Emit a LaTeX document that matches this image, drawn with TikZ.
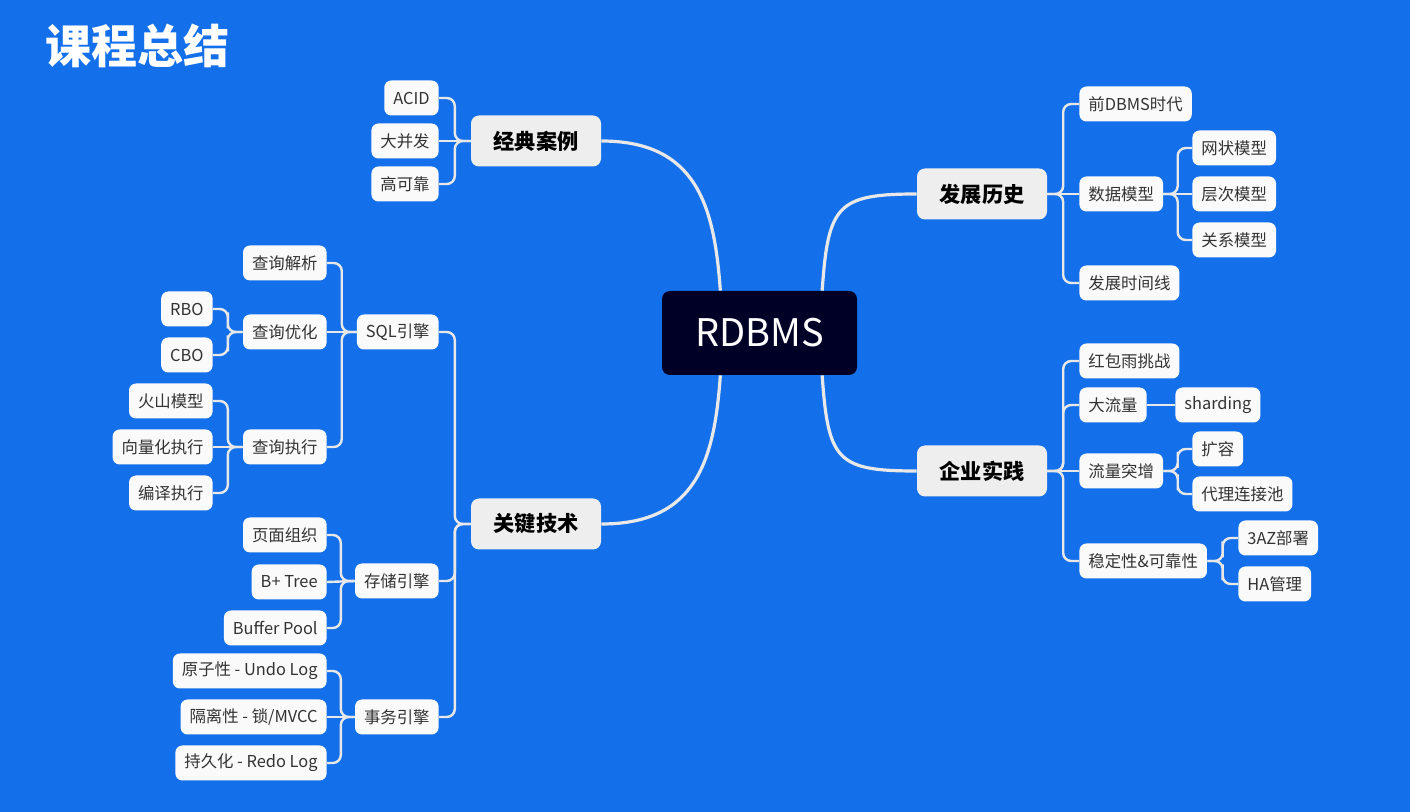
\documentclass[tikz,border=0pt]{standalone}
\usepackage{fontspec}
\setmainfont{Noto Sans CJK SC}
\usetikzlibrary{calc}
\definecolor{bgblue}{HTML}{1470EA}
\definecolor{rootnavy}{HTML}{000026}
\definecolor{branchgrey}{HTML}{EEEEEE}
\definecolor{leafwhite}{HTML}{FAFAFA}
\definecolor{linegrey}{HTML}{E8E8E8}
\definecolor{inktext}{HTML}{333333}
\tikzset{
  root/.style={fill=rootnavy, text=white, rounded corners=4pt, minimum width=97.5pt,
    minimum height=42pt, font=\fontsize{19}{22}\selectfont},
  branch/.style={fill=branchgrey, text=black, rounded corners=4pt, minimum width=65pt,
    minimum height=25.5pt, font=\bfseries\fontsize{10.6}{12}\selectfont},
  leaf/.style={fill=leafwhite, text=inktext, rounded corners=3.5pt, minimum height=17.5pt,
    inner xsep=4.5pt, inner ysep=0pt, font=\fontsize{8.2}{10}\selectfont},
  link/.style={draw=linegrey, line width=1.2pt, rounded corners=4pt},
  trunk/.style={draw=linegrey, line width=1.6pt},
}
\begin{document}
\begin{tikzpicture}[x=0.5pt,y=-0.5pt]
\useasboundingbox (0,0) rectangle (1410,812);
\fill[bgblue] (0,0) rectangle (1410,812);
\node[anchor=west, text=white, font=\bfseries\fontsize{23}{26}\selectfont, inner sep=0pt] (title) at (45,46) {课程总结};

% centre and main branches
\node[root] (rdbms) at (759.5,333) {RDBMS};
\node[branch] (jd) at (536,141) {经典案例};
\node[branch] (gj) at (536,524) {关键技术};
\node[branch] (fz) at (982,194) {发展历史};
\node[branch] (qy) at (982,471) {企业实践};

% left side
\node[leaf, anchor=east] (acid) at (439,98) {ACID};
\node[leaf, anchor=east] (dbf) at (439,141) {大并发};
\node[leaf, anchor=east] (gkk) at (439,184) {高可靠};
\node[leaf, anchor=east] (sql) at (439,332) {SQL引擎};
\node[leaf, anchor=east] (ccyq) at (439,581) {存储引擎};
\node[leaf, anchor=east] (swyq) at (439,717) {事务引擎};
\node[leaf, anchor=east] (cxjx) at (327,263) {查询解析};
\node[leaf, anchor=east] (cxyh) at (327,332) {查询优化};
\node[leaf, anchor=east] (cxzx) at (327,447) {查询执行};
\node[leaf, anchor=east] (rbo) at (213,309) {RBO};
\node[leaf, anchor=east] (cbo) at (213,355) {CBO};
\node[leaf, anchor=east] (hsmx) at (213,401) {火山模型};
\node[leaf, anchor=east] (xlh) at (213,447) {向量化执行};
\node[leaf, anchor=east] (byzx) at (213,493) {编译执行};
\node[leaf, anchor=east] (ymzz) at (327,535) {页面组织};
\node[leaf, anchor=east] (btree) at (327,582) {B+ Tree};
\node[leaf, anchor=east] (bpool) at (327,628) {Buffer Pool};
\node[leaf, anchor=east] (yzx) at (327,671) {原子性 - Undo Log};
\node[leaf, anchor=east] (glx) at (327,717) {隔离性 - 锁/MVCC};
\node[leaf, anchor=east] (cjh) at (327,763) {持久化 - Redo Log};

% right side
\node[leaf, anchor=west] (qdbms) at (1079,104) {前DBMS时代};
\node[leaf, anchor=west] (sjmx) at (1079,194) {数据模型};
\node[leaf, anchor=west] (sjx) at (1079,283) {发展时间线};
\node[leaf, anchor=west] (wzmx) at (1192,148) {网状模型};
\node[leaf, anchor=west] (ccmx) at (1192,194) {层次模型};
\node[leaf, anchor=west] (gxmx) at (1192,240) {关系模型};
\node[leaf, anchor=west] (hby) at (1079,361) {红包雨挑战};
\node[leaf, anchor=west] (dll) at (1079,405) {大流量};
\node[leaf, anchor=west] (shard) at (1175,405) {sharding};
\node[leaf, anchor=west] (lltz) at (1079,471) {流量突增};
\node[leaf, anchor=west] (kr) at (1192,449) {扩容};
\node[leaf, anchor=west] (dlc) at (1192,494) {代理连接池};
\node[leaf, anchor=west] (wdx) at (1079,561) {稳定性\&可靠性};
\node[leaf, anchor=west] (az) at (1238,538) {3AZ部署};
\node[leaf, anchor=west] (ha) at (1238,584) {HA管理};

% trunks
\draw[trunk] (jd.east) .. controls +(95,0) and +(-6,-85) .. ($(rdbms.north west)!0.3!(rdbms.north east)$);
\draw[trunk] (gj.east) .. controls +(95,0) and +(-6,85) .. ($(rdbms.south west)!0.3!(rdbms.south east)$);
\draw[trunk] (fz.west) .. controls +(-80,0) and +(6,-85) .. ($(rdbms.north west)!0.82!(rdbms.north east)$);
\draw[trunk] (qy.west) .. controls +(-80,0) and +(6,85) .. ($(rdbms.south west)!0.82!(rdbms.south east)$);

% brackets, left
\draw[link] (jd.west) -| ($(jd.west)!.5!(acid.east)$) |- (acid.east);
\draw[link] (jd.west) -- (dbf.east);
\draw[link] (jd.west) -| ($(jd.west)!.5!(gkk.east)$) |- (gkk.east);
\draw[link] (gj.west) -| ($(gj.west)!.5!(sql.east)$) |- (sql.east);
\draw[link] (gj.west) -| ($(gj.west)!.5!(ccyq.east)$) |- (ccyq.east);
\draw[link] (gj.west) -| ($(gj.west)!.5!(swyq.east)$) |- (swyq.east);
\draw[link] (sql.west) -| ($(sql.west)!.5!(cxjx.east)$) |- (cxjx.east);
\draw[link] (sql.west) -- (cxyh.east);
\draw[link] (sql.west) -| ($(sql.west)!.5!(cxzx.east)$) |- (cxzx.east);
\draw[link] (cxyh.west) -| ($(cxyh.west)!.5!(rbo.east)$) |- (rbo.east);
\draw[link] (cxyh.west) -| ($(cxyh.west)!.5!(cbo.east)$) |- (cbo.east);
\draw[link] (cxzx.west) -| ($(cxzx.west)!.5!(hsmx.east)$) |- (hsmx.east);
\draw[link] (cxzx.west) -- (xlh.east);
\draw[link] (cxzx.west) -| ($(cxzx.west)!.5!(byzx.east)$) |- (byzx.east);
\draw[link] (ccyq.west) -| ($(ccyq.west)!.5!(ymzz.east)$) |- (ymzz.east);
\draw[link] (ccyq.west) -- (btree.east);
\draw[link] (ccyq.west) -| ($(ccyq.west)!.5!(bpool.east)$) |- (bpool.east);
\draw[link] (swyq.west) -| ($(swyq.west)!.5!(yzx.east)$) |- (yzx.east);
\draw[link] (swyq.west) -- (glx.east);
\draw[link] (swyq.west) -| ($(swyq.west)!.5!(cjh.east)$) |- (cjh.east);

% brackets, right
\draw[link] (fz.east) -| ($(fz.east)!.5!(qdbms.west)$) |- (qdbms.west);
\draw[link] (fz.east) -- (sjmx.west);
\draw[link] (fz.east) -| ($(fz.east)!.5!(sjx.west)$) |- (sjx.west);
\draw[link] (sjmx.east) -| ($(sjmx.east)!.5!(wzmx.west)$) |- (wzmx.west);
\draw[link] (sjmx.east) -- (ccmx.west);
\draw[link] (sjmx.east) -| ($(sjmx.east)!.5!(gxmx.west)$) |- (gxmx.west);
\draw[link] (qy.east) -| ($(qy.east)!.5!(hby.west)$) |- (hby.west);
\draw[link] (qy.east) -| ($(qy.east)!.5!(dll.west)$) |- (dll.west);
\draw[link] (qy.east) -- (lltz.west);
\draw[link] (qy.east) -| ($(qy.east)!.5!(wdx.west)$) |- (wdx.west);
\draw[link] (dll.east) -- (shard.west);
\draw[link] (lltz.east) -| ($(lltz.east)!.5!(kr.west)$) |- (kr.west);
\draw[link] (lltz.east) -| ($(lltz.east)!.5!(dlc.west)$) |- (dlc.west);
\draw[link] (wdx.east) -| ($(wdx.east)!.5!(az.west)$) |- (az.west);
\draw[link] (wdx.east) -| ($(wdx.east)!.5!(ha.west)$) |- (ha.west);
\end{tikzpicture}
\end{document}
